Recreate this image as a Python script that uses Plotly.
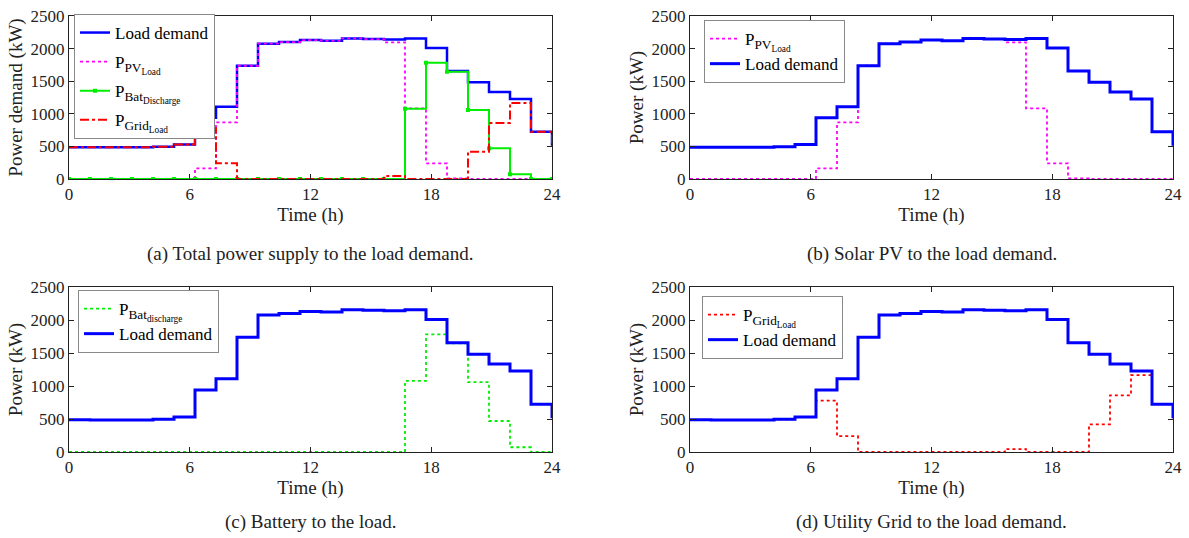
import plotly.graph_objects as go

# ---- data (hourly values, 24 points plotted as stairs over 0..24 h) ----
n_points = 24
time_h = [k * 24 / (n_points - 1) for k in range(n_points)]

load_demand = [488, 486, 486, 486, 495, 531, 940, 1109, 1737, 2075, 2100, 2130,
               2120, 2156, 2146, 2140, 2156, 2008, 1656, 1482, 1334, 1226, 725, 511]
pv_load = [0, 0, 0, 0, 0, 0, 163, 869, 1737, 2075, 2100, 2130,
           2120, 2156, 2146, 2095, 1083, 240, 10, 0, 0, 0, 0, 0]
bat_discharge = [0, 0, 0, 0, 0, 0, 0, 0, 0, 0, 0, 0,
                 0, 0, 0, 0, 1078, 1783, 1645, 1058, 470, 72, 0, 0]
grid_load = [488, 486, 486, 486, 495, 531, 777, 240, 0, 0, 0, 0,
             0, 0, 0, 45, 0, 0, 0, 419, 858, 1165, 725, 511]

x_ticks = [0, 6, 12, 18, 24]
y_ticks = [0, 500, 1000, 1500, 2000, 2500]
captions = ["(a) Total power supply to the load demand.",
            "(b) Solar PV to the load demand.",
            "(c) Battery to the load.",
            "(d) Utility Grid to the load demand."]
y_titles = ["Power demand (kW)", "Power (kW)", "Power (kW)", "Power (kW)"]

FONT = "Liberation Serif, Times New Roman, serif"
W, H = 1189, 538

BLUE = "#0000ff"
MAGENTA = "#ff00ff"
GREEN = "#00ee00"
RED = "#ff0000"

# panel pixel boxes: (x0, x1, ytop, ybottom)
boxes = [(69, 552, 16, 179), (690, 1173, 16, 179),
         (69, 552, 287, 452), (690, 1173, 287, 452)]
legend_pos = [(74, 14), (704, 20), (78, 290), (702, 296)]
caption_y = [254, 254, 522, 522]

fig = go.Figure()
_count = [0]

def add(panel, y, name, color, dash, width, markers=False):
    sfx = "" if panel == 0 else str(panel + 1)
    _count[0] += 1
    fig.add_trace(go.Scatter(
        x=time_h, y=y, name=name, line_shape="hv",
        mode="lines+markers" if markers else "lines",
        line=dict(color=color, dash=dash, width=width),
        marker=dict(size=4, color=color, symbol="square") if markers else None,
        xaxis="x" + sfx, yaxis="y" + sfx,
        legend="legend" + sfx, legendgroup="g%d" % _count[0],
    ))

def sym(main, sub1, sub2):
    return ("%s<span style='font-size:19px'><sub>%s<sub>%s</sub></sub></span>"
            % (main, sub1, sub2))

PV_NAME = sym("P", "PV", "Load")
GRID_NAME = sym("P", "Grid", "Load")

# (a)
add(0, load_demand, "Load demand", BLUE, "solid", 2.5)
add(0, pv_load, PV_NAME, MAGENTA, "dot", 1.8)
add(0, bat_discharge, sym("P", "Bat", "Discharge"), GREEN, "solid", 2, markers=True)
add(0, grid_load, GRID_NAME, RED, "dashdot", 2)
# (b)
add(1, pv_load, PV_NAME, MAGENTA, "dot", 1.8)
add(1, load_demand, "Load demand", BLUE, "solid", 3)
# (c)
add(2, bat_discharge, sym("P", "Bat", "discharge"), GREEN, "dot", 1.8)
add(2, load_demand, "Load demand", BLUE, "solid", 3)
# (d)
add(3, grid_load, GRID_NAME, RED, "dot", 1.8)
add(3, load_demand, "Load demand", BLUE, "solid", 3)

layout = dict(width=W, height=H,
              margin=dict(l=0, r=0, t=0, b=0, autoexpand=False),
              paper_bgcolor="white", plot_bgcolor="white",
              font=dict(family=FONT, size=17, color="#222"),
              annotations=[])

gaps = [4, 0, 0, 0]
for i, (x0, x1, yt, yb) in enumerate(boxes):
    sfx = "" if i == 0 else str(i + 1)
    ax = dict(domain=[x0 / W, x1 / W], range=[0, 24], tickvals=x_ticks,
              ticks="inside", ticklen=5, tickcolor="#222", mirror="ticks",
              showline=True, linecolor="#222", linewidth=1, showgrid=False,
              zeroline=False, anchor="y" + sfx, automargin=False,
              title=dict(text="Time (h)", standoff=0, font=dict(family=FONT, size=19)),
              tickfont=dict(family=FONT, size=17))
    ay = dict(domain=[1 - yb / H, 1 - yt / H], range=[0, 2500], tickvals=y_ticks,
              ticks="inside", ticklen=5, tickcolor="#222", mirror="ticks",
              showline=True, linecolor="#222", linewidth=1, showgrid=False,
              zeroline=False, anchor="x" + sfx, automargin=False,
              title=dict(text=y_titles[i], standoff=2, font=dict(family=FONT, size=19)),
              tickfont=dict(family=FONT, size=17))
    layout["xaxis" + sfx] = ax
    layout["yaxis" + sfx] = ay
    lx, ly = legend_pos[i]
    layout["legend" + sfx] = dict(x=lx / W, y=1 - ly / H, xanchor="left", yanchor="top",
                                  bgcolor="white", bordercolor="#888", borderwidth=1,
                                  font=dict(family=FONT, size=17, color="#000"),
                                  tracegroupgap=gaps[i], itemwidth=30)
    layout["annotations"].append(dict(
        text=captions[i], x=(x0 + x1) / 2 / W, y=1 - caption_y[i] / H,
        xref="paper", yref="paper", showarrow=False, xanchor="center", yanchor="middle",
        font=dict(family=FONT, size=19, color="#222")))

fig.update_layout(**layout)
fig.write_html("out.html", post_script="document.body.style.margin='0';",
               config={"displayModeBar": False})
